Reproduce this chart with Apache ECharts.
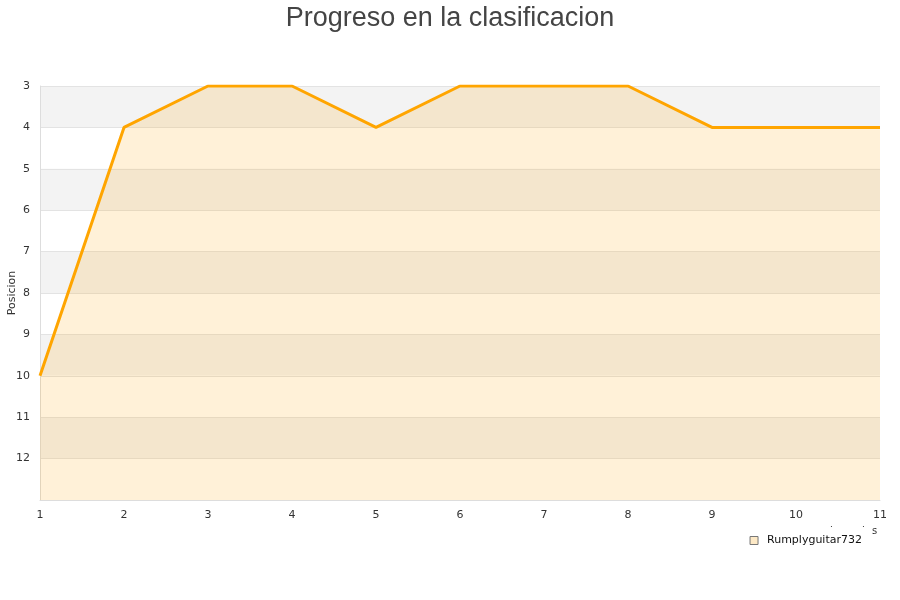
<!DOCTYPE html>
<html><head><meta charset="utf-8">
<script src="https://cdn.jsdelivr.net/npm/echarts@6/dist/echarts.min.js"></script>
<style>html,body{margin:0;padding:0;background:#fff}#c{width:900px;height:600px}</style>
</head><body><div id="c"></div>
<script>
const categories = ['1','2','3','4','5','6','7','8','9','10','11'];
const positions = [10,4,3,3,4,3,3,3,4,4,4];
const seriesName = 'Rumplyguitar732';
const yLabels = [3,4,5,6,7,8,9,10,11,12];

const chart = echarts.init(document.getElementById('c'));
chart.setOption({
  animation: false,
  title: { text: 'Progreso en la clasificacion', left: 'center', top: 0,
    textStyle: { fontFamily: 'Liberation Sans, Arial', fontSize: 27, fontWeight: 'normal', color: '#444' } },
  grid: { left: 40, right: 20, top: 86, bottom: 100, containLabel: false, outerBoundsMode: 'none' },
  legend: { data: [{ name: seriesName, icon: 'rect', itemStyle: { color: '#fde9c6', borderColor: '#777', borderWidth: 1 } }],
    right: 33, top: 530, itemWidth: 8, itemHeight: 8, itemGap: 6,
    textStyle: { fontFamily: 'DejaVu Sans', fontSize: 11, color: '#111', padding: [0, 0, 0, 4] } },
  xAxis: { type: 'category', data: categories, boundaryGap: false,
    axisLine: { show: true, lineStyle: { color: '#ddd' } }, axisTick: { show: false },
    axisLabel: { fontFamily: 'DejaVu Sans', fontSize: 11, color: '#333', margin: 10 },
    splitLine: { show: false } },
  yAxis: { type: 'value', inverse: true, min: 3, max: 13, interval: 1,
    name: 'Posicion', nameLocation: 'middle', nameGap: 22, nameRotate: 90, nameMoveOverlap: false,
    nameTextStyle: { fontFamily: 'DejaVu Sans', fontSize: 11, color: '#333' },
    axisLine: { show: true, lineStyle: { color: '#ddd' } }, axisTick: { show: false },
    axisLabel: { fontFamily: 'DejaVu Sans', fontSize: 11, color: '#333', margin: 10,
      formatter: v => yLabels.includes(v) ? String(v) : '' },
    splitLine: { show: true, lineStyle: { color: '#e3e3e3' } },
    splitArea: { show: true, areaStyle: { color: ['#f3f3f3', '#ffffff'] } } },
  series: [{
    name: seriesName, type: 'line', data: positions, symbol: 'none',
    itemStyle: { color: '#fde9c6', borderColor: '#777' },
    lineStyle: { color: '#ffa500', width: 3 },
    areaStyle: { color: 'rgba(255,165,0,0.22)', origin: 'end' }
  }],
  graphic: [
    { type: 'text', left: 872, top: 526, style: { text: 's', fontFamily: 'DejaVu Sans', fontSize: 10, fill: '#333' } },
    { type: 'text', left: 830, top: 520, style: { text: '.', fontFamily: 'DejaVu Sans', fontSize: 9, fill: '#333' } },
    { type: 'text', left: 862, top: 520, style: { text: '.', fontFamily: 'DejaVu Sans', fontSize: 9, fill: '#333' } }
  ]
});
</script></body></html>
